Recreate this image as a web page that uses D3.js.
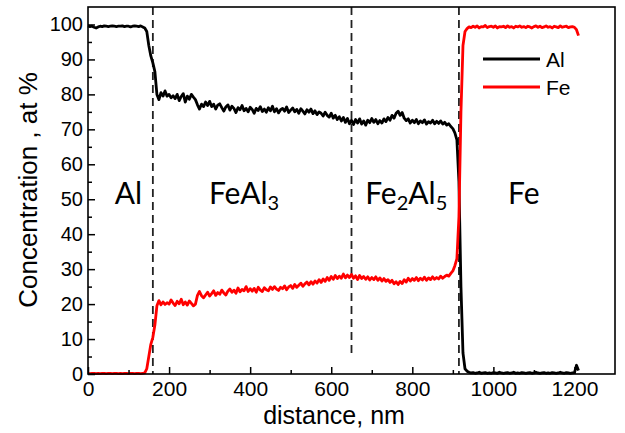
<!DOCTYPE html>
<html><head><meta charset="utf-8">
<script src="https://cdn.jsdelivr.net/npm/d3@7"></script>
<style>body{margin:0;background:#fff}svg{display:block}</style>
</head><body>
<svg id="c" width="625" height="433"></svg>
<script>
// distance grid (nm): 0,5,10,...,1205
const distStart = 0, distStep = 5;
const alValues = [
99.6,99.4,99.5,99.2,99.0,99.3,99.5,99.4,99.6,99.5,99.4,99.5,99.6,99.5,99.4,99.5,99.5,99.6,99.4,99.5,
99.5,99.3,99.5,99.6,99.5,99.4,99.6,99.3,99.0,98.0,94.0,91.0,89.0,86.5,80.0,78.5,80.5,79.5,81.0,79.5,
80.0,79.0,79.6,78.8,80.0,78.2,79.4,80.2,77.8,79.5,78.6,80.0,79.2,78.5,77.0,75.8,77.2,76.5,77.8,76.8,
78.0,76.5,77.2,75.8,76.9,77.3,76.2,75.2,76.4,77.0,75.5,76.6,76.0,74.8,76.2,75.6,76.8,75.3,76.0,75.0,
76.3,75.7,74.6,76.0,75.4,76.5,75.1,75.8,74.9,76.2,75.3,76.6,75.0,75.9,74.7,75.6,76.0,75.2,76.4,74.8,
75.5,76.1,75.0,75.7,74.6,75.9,75.2,74.4,75.6,74.9,75.8,74.5,75.3,74.2,75.0,74.6,73.8,74.9,74.0,73.5,
74.6,73.2,74.0,72.8,73.6,72.4,73.4,72.0,73.1,71.6,72.6,71.4,72.8,71.8,73.0,71.5,72.4,71.2,72.6,71.9,
73.1,72.0,72.8,71.6,72.5,71.8,73.0,72.2,73.4,72.6,74.0,73.2,74.6,75.2,74.0,74.8,73.2,72.5,73.0,71.8,
72.6,71.9,72.8,71.6,72.4,71.9,72.7,71.5,72.2,71.8,72.6,71.6,72.3,71.7,72.4,71.5,72.0,71.2,71.6,70.8,
70.2,69.0,67.0,55.0,25.0,6.0,1.5,0.8,0.5,0.3,0.4,0.2,0.3,0.5,0.2,0.3,0.4,0.2,0.3,0.2,
0.4,0.3,0.2,0.5,0.3,0.2,0.3,0.4,0.2,0.3,0.5,0.2,0.3,0.2,0.4,0.3,0.2,0.3,0.4,0.2,
0.3,0.5,0.3,0.2,0.3,0.4,0.2,0.3,0.2,0.4,0.3,0.2,0.3,0.5,0.3,0.2,0.4,0.3,0.2,0.3,
0.4,2.5,1.0
];
const feValues = [
0.2,0.1,0.2,0.2,0.1,0.2,0.1,0.2,0.2,0.1,0.2,0.2,0.1,0.2,0.2,0.1,0.2,0.1,0.2,0.2,
0.1,0.2,0.2,0.1,0.2,0.2,0.1,0.2,0.3,1.5,5.0,8.5,10.5,14.0,19.5,21.0,19.8,20.6,19.9,20.4,
20.0,21.2,20.3,19.6,20.8,20.1,21.4,19.8,20.6,19.7,20.9,20.2,19.5,20.0,22.5,23.6,22.4,21.8,22.6,23.4,
22.3,23.0,23.8,22.5,23.3,22.8,24.0,23.2,22.6,23.7,24.3,23.4,24.0,23.1,24.6,23.5,24.2,23.8,25.0,23.6,
24.4,23.7,24.5,23.4,24.8,24.0,23.6,24.7,24.1,23.8,24.9,24.2,25.0,24.3,23.9,24.8,24.4,25.2,24.1,24.9,
25.3,24.5,25.6,24.8,25.4,26.0,25.1,25.8,26.3,25.5,26.4,25.7,26.6,26.0,27.0,26.2,27.2,26.5,27.6,26.8,
27.9,27.1,28.2,27.3,28.0,27.4,28.6,27.5,28.3,27.6,28.5,27.4,28.1,27.0,28.2,27.3,27.9,27.1,27.8,26.9,
27.6,27.0,27.8,26.8,27.5,26.6,27.3,26.5,27.0,26.2,26.8,25.8,26.4,25.6,26.5,25.9,27.0,26.3,27.4,26.6,
27.3,26.8,27.6,26.7,27.4,26.9,27.7,26.8,27.5,27.0,27.8,27.1,27.6,27.2,28.0,27.4,27.9,28.3,28.0,28.8,
29.5,31.0,33.0,45.0,75.0,94.0,98.0,98.8,99.3,99.1,99.5,99.2,99.6,99.0,99.4,99.3,99.7,99.1,99.4,99.5,
99.2,99.6,99.0,99.4,99.3,99.5,99.1,99.6,99.2,99.4,99.0,99.5,99.3,99.6,99.2,99.4,99.1,99.5,99.3,99.0,
99.4,99.6,99.2,99.5,99.1,99.3,99.6,99.2,99.4,99.0,99.5,99.3,99.1,99.6,99.2,99.4,99.5,99.1,99.3,99.4,
99.2,98.5,96.8
];
const xTicks = [0,200,400,600,800,1000,1200];
const xMinor = [100,300,500,700,900,1100];
const yTicks = [0,10,20,30,40,50,60,70,80,90,100];
const yMinor = [5,15,25,35,45,55,65,75,85,95];
const boundaries = [160, 650, 915];
const boundaryEnds = [0, 5.5, 0]; // lower end of each dashed line (at %)
const phaseLabels = [
  {x: 100, parts: [["Al",""]]},
  {x: 385, parts: [["FeAl",""],["3","sub"]]},
  {x: 785, parts: [["Fe",""],["2","sub"],["Al",""],["5","sub"]]},
  {x: 1075, parts: [["Fe",""]]}
];
const seriesNames = ["Al","Fe"];
const seriesColors = ["#000000","#ff0000"];

const svg = d3.select("#c");
const M = {left:88, right:615, top:7, bottom:374};
const x = d3.scaleLinear().domain([0,1300]).range([M.left, M.right]);
const y = d3.scaleLinear().domain([0,105]).range([M.bottom, M.top]);

const dist = alValues.map((_,i)=>distStart + i*distStep);
const al = dist.map((d,i)=>[d, alValues[i]]);
const fe = dist.map((d,i)=>[d, feValues[i]]);

// dashed boundaries
svg.selectAll("line.bd").data(boundaries).enter().append("line")
  .attr("x1",d=>x(d)).attr("x2",d=>x(d))
  .attr("y1",y(105)).attr("y2",(d,i)=>y(boundaryEnds[i]))
  .attr("stroke","#222").attr("stroke-width",1.8).attr("stroke-dasharray","8,5");

const line = d3.line().x(d=>x(d[0])).y(d=>y(d[1]));
svg.append("path").datum(al).attr("d",line).attr("fill","none")
  .attr("stroke",seriesColors[0]).attr("stroke-width",2.8).attr("stroke-linejoin","round");
svg.append("path").datum(fe).attr("d",line).attr("fill","none")
  .attr("stroke",seriesColors[1]).attr("stroke-width",2.8).attr("stroke-linejoin","round");

// frame
svg.append("rect").attr("x",M.left).attr("y",M.top)
  .attr("width",M.right-M.left).attr("height",M.bottom-M.top)
  .attr("fill","none").attr("stroke","#000").attr("stroke-width",1.6);

// axes
const fontTick = "'Liberation Sans', Arial, sans-serif";
const xAxis = d3.axisBottom(x).tickValues(xTicks).tickSize(-7).tickPadding(7).tickFormat(d3.format("d"));
const gx = svg.append("g").attr("transform",`translate(0,${M.bottom})`).call(xAxis);
gx.select(".domain").remove();
gx.selectAll("line").attr("stroke","#000").attr("stroke-width",1.5);
gx.selectAll("text").attr("font-family",fontTick).attr("font-size",21).attr("fill","#000");
const xAxisMin = d3.axisBottom(x).tickValues(xMinor).tickSize(-4).tickFormat("");
const gxm = svg.append("g").attr("transform",`translate(0,${M.bottom})`).call(xAxisMin);
gxm.select(".domain").remove();
gxm.selectAll("line").attr("stroke","#000").attr("stroke-width",1.5);

const yAxis = d3.axisLeft(y).tickValues(yTicks).tickSize(-7).tickPadding(5).tickFormat(d3.format("d"));
const gy = svg.append("g").attr("transform",`translate(${M.left},0)`).call(yAxis);
gy.select(".domain").remove();
gy.selectAll("line").attr("stroke","#000").attr("stroke-width",1.5);
gy.selectAll("text").attr("font-family",fontTick).attr("font-size",20).attr("fill","#000");
const yAxisMin = d3.axisLeft(y).tickValues(yMinor).tickSize(-4).tickFormat("");
const gym = svg.append("g").attr("transform",`translate(${M.left},0)`).call(yAxisMin);
gym.select(".domain").remove();
gym.selectAll("line").attr("stroke","#000").attr("stroke-width",1.5);

// axis titles
svg.append("text").attr("x",334).attr("y",424).attr("text-anchor","middle")
  .attr("font-family",fontTick).attr("font-size",25).text("distance, nm");
svg.append("text").attr("transform",`translate(37,190) rotate(-90)`).attr("text-anchor","middle")
  .attr("font-family",fontTick).attr("font-size",26).text("Concentration , at %");

// phase labels
const fontLab = "Lato, 'Open Sans', sans-serif";
phaseLabels.forEach(p=>{
  const t = svg.append("text").attr("x",x(p.x)).attr("y",204).attr("text-anchor","middle")
    .attr("font-family",fontLab).attr("font-size",30).attr("fill","#000");
  p.parts.forEach(([s,k])=>{
    const ts = t.append("tspan").text(s);
    if(k==="sub") ts.attr("font-size",20).attr("dy",6);
    else if (t.selectAll("tspan").size()>1) ts.attr("dy",-6);
  });
});

// legend
const lg = svg.append("g");
seriesNames.forEach((n,i)=>{
  const yy = 59 + i*28;
  lg.append("line").attr("x1",483).attr("x2",540).attr("y1",yy).attr("y2",yy)
    .attr("stroke",seriesColors[i]).attr("stroke-width",2.8);
  lg.append("text").attr("x",546).attr("y",yy+7.5).attr("font-family",fontTick)
    .attr("font-size",21).text(n);
});
</script>
</body></html>
